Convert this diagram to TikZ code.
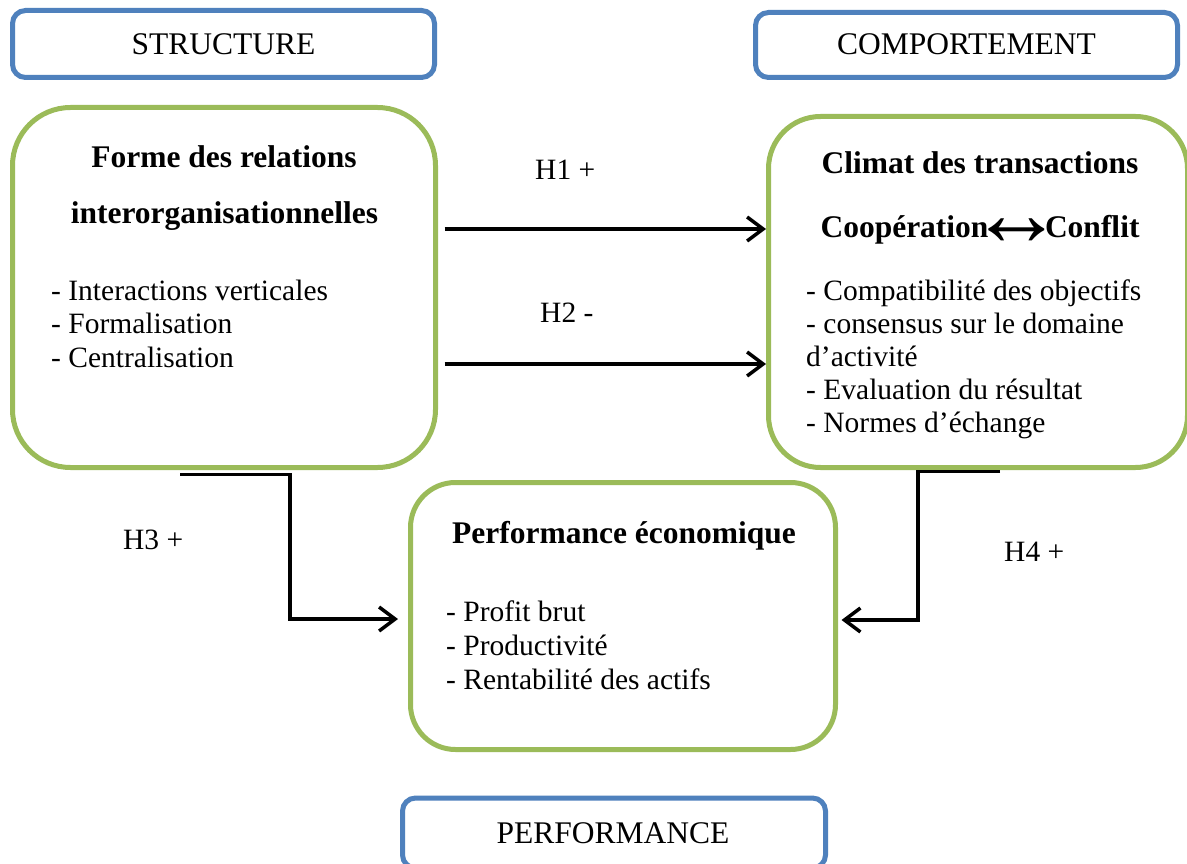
\documentclass[tikz,border=0pt]{standalone}
\usepackage{fontspec}
\setmainfont{Liberation Serif}
\usepackage{graphicx}
\usetikzlibrary{arrows.meta}
\definecolor{boxblue}{HTML}{4F81BD}
\definecolor{boxgreen}{HTML}{9BBB59}
\begin{document}
\begin{tikzpicture}[x=1pt,y=-1pt,
  catbox/.style={draw=boxblue,line width=5pt,rounded corners=13pt,fill=white,inner sep=0},
  grbox/.style={draw=boxgreen,line width=5pt,fill=white,inner sep=0},
  captxt/.style={font=\fontsize{31.5}{36}\selectfont,inner sep=0,anchor=base},
  headtxt/.style={font=\fontsize{31.5}{36}\selectfont\bfseries,inner sep=0,anchor=base},
  itemtxt/.style={font=\fontsize{29.5}{34}\selectfont,inner sep=0,anchor=base west},
  labtxt/.style={font=\fontsize{29.5}{34}\selectfont,inner sep=0,anchor=base west},
  hlink/.style={line width=3.5pt,-{Straight Barb[length=16pt,width=24pt,line width=3.5pt]}}]
\useasboundingbox (0,0) rectangle (1187,864);
\fill[white] (0,0) rectangle (1187,864);

% category boxes
\node[catbox,minimum width=422pt,minimum height=67pt] (S) at (223.5,44) {};
\node[captxt] (St) at (223.5,55) {STRUCTURE};
\node[catbox,minimum width=422pt,minimum height=65pt] (C) at (966.5,45) {};
\node[captxt] (Ct) at (966.5,55) {COMPORTEMENT};
\node[catbox,minimum width=423pt,minimum height=70pt] (P) at (614,833) {};
\node[captxt] (Pt) at (613,843) {PERFORMANCE};

% green boxes
\node[grbox,rounded corners=58pt,minimum width=423pt,minimum height=360pt] (L) at (224,287.5) {};
\node[grbox,rounded corners=52pt,minimum width=419pt,minimum height=351pt] (R) at (978,292) {};
\node[grbox,rounded corners=45pt,minimum width=425pt,minimum height=267pt] (M) at (623,616) {};

% left box text
\node[headtxt] (L1) at (224,168) {Forme des relations};
\node[headtxt] (L2) at (224.5,223) {interorganisationnelles};
\node[itemtxt] (L3) at (51,300) {- Interactions verticales};
\node[itemtxt] (L4) at (51,333.5) {- Formalisation};
\node[itemtxt] (L5) at (51,367) {- Centralisation};

% right box text
\node[headtxt] (R1) at (980,174) {Climat des transactions};
\node[headtxt] (R2) at (980,237) {Coopération\hspace{-19pt}\raisebox{-8.5pt}{\scalebox{3}[3]{↔}}\hspace{-19pt}Conflit};
\node[itemtxt] (R3) at (806,300) {- Compatibilité des objectifs};
\node[itemtxt] (R4) at (806,333) {- consensus sur le domaine};
\node[itemtxt] (R5) at (806,366) {d’activité};
\node[itemtxt] (R6) at (806,399) {- Evaluation du résultat};
\node[itemtxt] (R7) at (806,432) {- Normes d’échange};

% middle box text
\node[headtxt] (M1) at (624,543) {Performance économique};
\node[itemtxt] (M2) at (446,621) {- Profit brut};
\node[itemtxt] (M3) at (446,655) {- Productivité};
\node[itemtxt] (M4) at (446,689) {- Rentabilité des actifs};

% hypothesis labels
\node[labtxt] (H1) at (535,180) {H1 +};
\node[labtxt] (H2) at (540,322) {H2 -};
\node[labtxt] (H3) at (123,549) {H3 +};
\node[labtxt] (H4) at (1004,561) {H4 +};

% connectors
\coordinate (y1) at (0,229);
\coordinate (y2) at (0,364);
\draw[hlink,shorten <=6.5pt] (L.east |- y1) -- (R.west |- y1);
\draw[hlink,shorten <=6.5pt] (L.east |- y2) -- (R.west |- y2);
\draw[hlink] ([shift={(-44,4.5)}]L.south) -- ++(110,0) |- ([shift={(-10,3)}]M.west);
\draw[hlink] ([shift={(22,1.5)}]R.south) -- ++(-82,0) |- ([shift={(3.5,4)}]M.east);
\end{tikzpicture}
\end{document}
